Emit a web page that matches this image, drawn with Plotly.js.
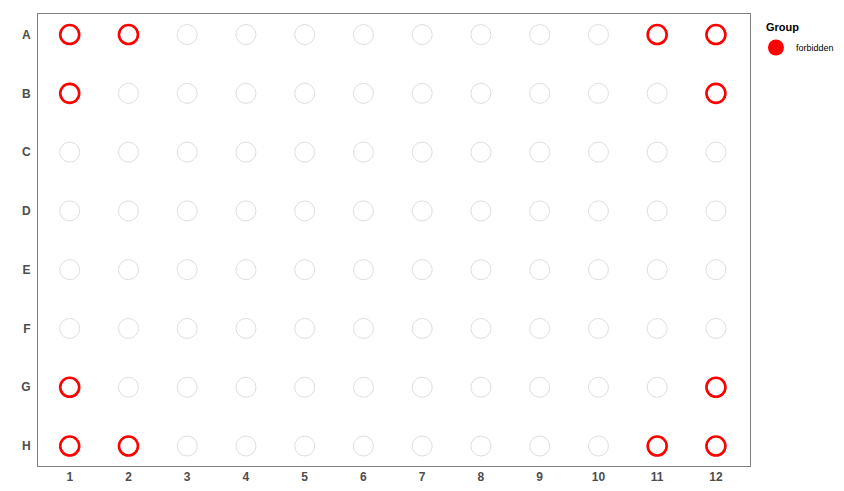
<!DOCTYPE html>
<html><head><meta charset="utf-8">
<script src="https://cdn.plot.ly/plotly-3.0.1.min.js"></script>
<style>body{margin:0;background:#fff}#c{width:844px;height:491px}</style>
</head><body><div id="c"></div>
<script>
const rows = ['A','B','C','D','E','F','G','H'];
const cols = [1,2,3,4,5,6,7,8,9,10,11,12];
const forbiddenRows = ['A','A','A','A','B','B','G','G','H','H','H','H'];
const forbiddenCols = [1,2,11,12,1,12,1,12,1,2,11,12];
const legendTitle = 'Group';
const groupName = 'forbidden';

const allX = [], allY = [];
rows.forEach(r => cols.forEach(c => { allX.push(c); allY.push(r); }));

const traces = [
  {x: allX, y: allY, type: 'scatter', mode: 'markers', showlegend: false, hoverinfo: 'skip',
   marker: {symbol: 'circle-open', size: 20, color: '#dedede', line: {width: 1}}},
  {x: forbiddenCols, y: forbiddenRows, type: 'scatter', mode: 'markers', showlegend: false,
   marker: {symbol: 'circle-open', size: 19, color: '#ff0000', line: {width: 2.6}}},
  {x: [null], y: [null], type: 'scatter', mode: 'markers', name: groupName, showlegend: true,
   marker: {symbol: 'circle', size: 16, color: '#ff0000'}}
];

const layout = {
  width: 844, height: 491,
  margin: {l: 38, r: 94, t: 14, b: 25, autoexpand: false},
  paper_bgcolor: '#fff', plot_bgcolor: '#fff',
  font: {family: 'Liberation Sans, Arial, sans-serif'},
  xaxis: {range: [0.46, 12.58], tickvals: cols, ticktext: cols.map(String), showgrid: false, zeroline: false,
          showline: true, mirror: true, linecolor: '#7f7f7f', linewidth: 1, ticks: '',
          tickfont: {size: 12, color: '#4d4d4d', weight: 'bold'}},
  yaxis: {type: 'category', categoryorder: 'array', categoryarray: rows, range: [7.34, -0.35],
          showgrid: false, zeroline: false, showline: true, mirror: true, linecolor: '#7f7f7f', linewidth: 1,
          ticks: '', ticklabelstandoff: 4, tickfont: {size: 12, color: '#4d4d4d', weight: 'bold'}},
  legend: {x: 1.0084, y: 0.958, xanchor: 'left', yanchor: 'top', itemsizing: 'trace',
           font: {size: 9, color: '#000'}, bgcolor: 'rgba(0,0,0,0)'},
  annotations: [{text: '<b>' + legendTitle + '</b>', xref: 'paper', yref: 'paper', x: 1.0197, y: 1.0,
                 xanchor: 'left', yanchor: 'middle', yshift: -13, showarrow: false,
                 font: {size: 11, color: '#000'}}]
};
Plotly.newPlot('c', traces, layout, {displayModeBar: false, staticPlot: true});
</script></body></html>
